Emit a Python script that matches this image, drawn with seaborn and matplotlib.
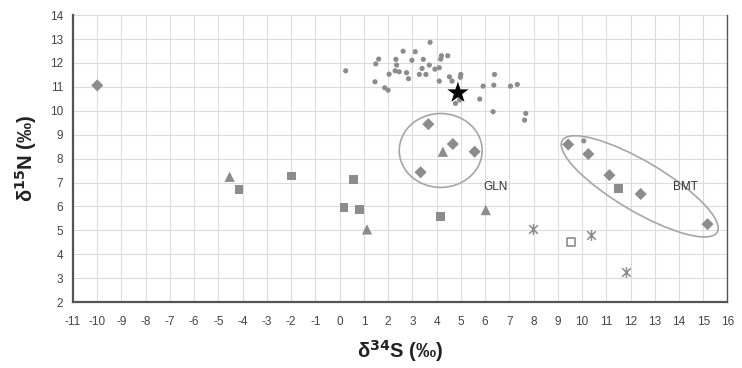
import numpy as np
import pandas as pd
import seaborn as sns
import matplotlib
matplotlib.use("Agg")
import matplotlib.pyplot as plt
from matplotlib.patches import Ellipse
from matplotlib.path import Path

# ---- data (delta34S, delta15N) ----
dots_x = [0.25, 1.61, 1.49, 2.62, 3.12, 2.32, 2.35, 2.29, 2.46, 2.04, 1.46, 1.86, 2.00,
          2.76, 2.84, 2.98, 3.45, 3.40, 3.29, 3.56, 3.70, 3.73, 3.93, 4.11, 4.17, 4.20,
          4.46, 4.11, 4.53, 4.64, 5.00, 4.98, 4.78, 4.95, 5.78, 5.92, 6.36, 6.39, 7.05,
          7.33, 6.33, 7.68, 7.63, 10.07]
dots_y = [11.67, 12.16, 11.96, 12.49, 12.47, 12.15, 11.91, 11.67, 11.63, 11.53, 11.21, 10.96, 10.86,
          11.59, 11.34, 12.11, 12.15, 11.77, 11.52, 11.52, 11.91, 12.86, 11.74, 11.80, 12.16, 12.30,
          12.30, 11.24, 11.42, 11.24, 11.52, 11.40, 10.31, 10.45, 10.49, 11.03, 11.07, 11.52, 11.03,
          11.10, 9.96, 9.89, 9.61, 8.74]

diamond_x = [-10.0, 3.66, 4.67, 5.57, 3.34, 9.43, 10.26, 11.13, 12.42, 15.18]
diamond_y = [11.06, 9.44, 8.61, 8.29, 7.43, 8.59, 8.19, 7.31, 6.52, 5.26]

triangle_x = [-4.54, 1.13, 4.26, 6.03]
triangle_y = [7.24, 5.04, 8.29, 5.85]

square_x = [-4.15, -1.97, 0.58, 0.18, 0.81, 4.15, 11.52]
square_y = [6.71, 7.27, 7.13, 5.96, 5.86, 5.57, 6.74]

open_square_x = [9.54]
open_square_y = [4.50]

asterisk_x = [7.98, 10.37, 11.82]
asterisk_y = [5.04, 4.80, 3.27]

star_x = [4.88]
star_y = [10.75]

x_ticks = list(range(-11, 17))
y_ticks = list(range(2, 15))

group_labels = ["GLN", "BMT"]

# ---- style ----
sns.set_style("white")
plt.rcParams["font.family"] = ["Liberation Sans", "DejaVu Sans"]

fig = plt.figure(figsize=(7.42, 3.68), dpi=100)
ax = fig.add_axes([0.0984, 0.179, 0.882, 0.780])

gray = "#8c8c8c"

sns.scatterplot(x=dots_x, y=dots_y, ax=ax, marker="o", s=14, color=gray,
                edgecolor="none", zorder=3)
sns.scatterplot(x=diamond_x, y=diamond_y, ax=ax, marker="D", s=38, color=gray,
                edgecolor="none", zorder=3)
sns.scatterplot(x=triangle_x, y=triangle_y, ax=ax, marker="^", s=55, color=gray,
                edgecolor="none", zorder=3)
sns.scatterplot(x=square_x, y=square_y, ax=ax, marker="s", s=40, color=gray,
                edgecolor="none", zorder=3)
sns.scatterplot(x=open_square_x, y=open_square_y, ax=ax, marker="s", s=40,
                facecolor="white", edgecolor=gray, linewidth=1.2, zorder=3)
ast = Path([(0, 1), (0, -1), (-0.8, 0.8), (0.8, -0.8), (-0.8, -0.8), (0.8, 0.8)],
           [Path.MOVETO, Path.LINETO, Path.MOVETO, Path.LINETO, Path.MOVETO, Path.LINETO])
sns.scatterplot(x=asterisk_x, y=asterisk_y, ax=ax, marker=ast, s=60, color=gray,
                edgecolor=gray, linewidth=1.1, zorder=3)
sns.scatterplot(x=star_x, y=star_y, ax=ax, marker="*", s=260, color="black",
                edgecolor="none", zorder=4)

# group ellipses and labels
ax.add_patch(Ellipse((4.17, 8.34), 3.42, 3.09, fill=False, edgecolor="#a6a6a6",
                     linewidth=1.2, zorder=2))
ax.add_patch(Ellipse((12.38, 6.84), 7.45, 2.08, angle=-31, fill=False,
                     edgecolor="#a6a6a6", linewidth=1.2, zorder=2))
ax.text(6.43, 6.81, group_labels[0], fontsize=8.5, ha="center", va="center", color="#333333")
ax.text(14.25, 6.82, group_labels[1], fontsize=8.5, ha="center", va="center", color="#333333")

ax.set_xlim(-11, 16)
ax.set_ylim(2, 14)
ax.set_xticks(x_ticks)
ax.set_yticks(y_ticks)
ax.set_xticklabels([str(t) for t in x_ticks])
ax.set_yticklabels([str(t) for t in y_ticks])
ax.grid(True, color="#dcdcdc", linewidth=0.8, zorder=0)
ax.set_axisbelow(True)

for side in ["left", "bottom"]:
    ax.spines[side].set_color("#555555")
    ax.spines[side].set_linewidth(1.6)
ax.spines["right"].set_color("#555555")
ax.spines["right"].set_linewidth(1.0)
ax.spines["top"].set_visible(False)

ax.tick_params(axis="both", which="both", direction="out", length=4, width=0.8,
               color="#777777", labelsize=8.5, labelcolor="#444444", pad=3)
ax.tick_params(axis="x", pad=6)

ax.set_xlabel("δ$^{\\mathbf{34}}$S (‰)", fontsize=14.5, fontweight="bold", labelpad=7,
              color="#222222")
ax.set_ylabel("δ$^{\\mathbf{15}}$N (‰)", fontsize=14.5, fontweight="bold", labelpad=8,
              color="#222222")

fig.savefig("out.png", dpi=100)
